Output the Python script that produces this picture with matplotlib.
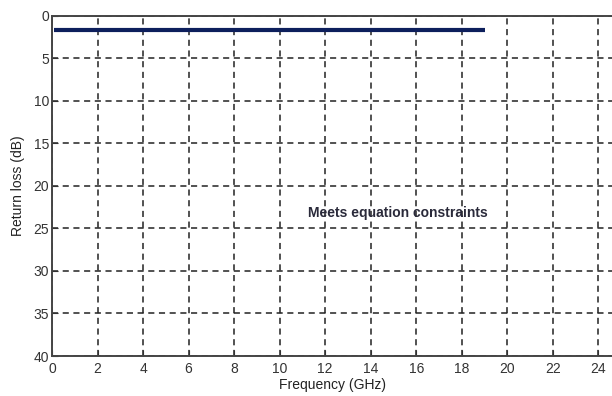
import matplotlib.pyplot as plt

# return loss trace (flat) and annotation
freq = [0.1, 19.0]
return_loss = [1.7, 1.7]
x_ticks = [0, 2, 4, 6, 8, 10, 12, 14, 16, 18, 20, 22, 24]
y_ticks = [0, 5, 10, 15, 20, 25, 30, 35, 40]
note = 'Meets equation constraints'

plt.rcParams['font.family'] = ['Liberation Sans', 'DejaVu Sans']

fig = plt.figure(figsize=(6.12, 3.96), dpi=100)
ax = fig.add_axes([0.085, 0.101, 0.915, 0.859])

ax.plot(freq, return_loss, color='#0d1f5c', linewidth=3, solid_capstyle='butt', zorder=3)
ax.text(11.25, 23.2, note, fontsize=10, fontweight='bold', color='#2a2a3a',
        va='center', ha='left')

ax.set_xlim(0, 24.6)
ax.set_ylim(40, 0)
ax.set_xticks(x_ticks)
ax.set_yticks(y_ticks)
ax.grid(True, linestyle=(0, (4, 3)), color='#222222', linewidth=1.1)
ax.tick_params(direction='in', length=4, labelsize=10, colors='#333333', pad=2)
ax.tick_params(axis='x', pad=4)

for side in ['left', 'bottom', 'top']:
    ax.spines[side].set_color('#444444')
    ax.spines[side].set_linewidth(1.4)
ax.spines['right'].set_visible(False)

ax.set_xlabel('Frequency (GHz)', fontsize=10, color='#222222', labelpad=2)
ax.set_ylabel('Return loss (dB)', fontsize=10, color='#222222', labelpad=6)

fig.savefig('out.png', dpi=100)
